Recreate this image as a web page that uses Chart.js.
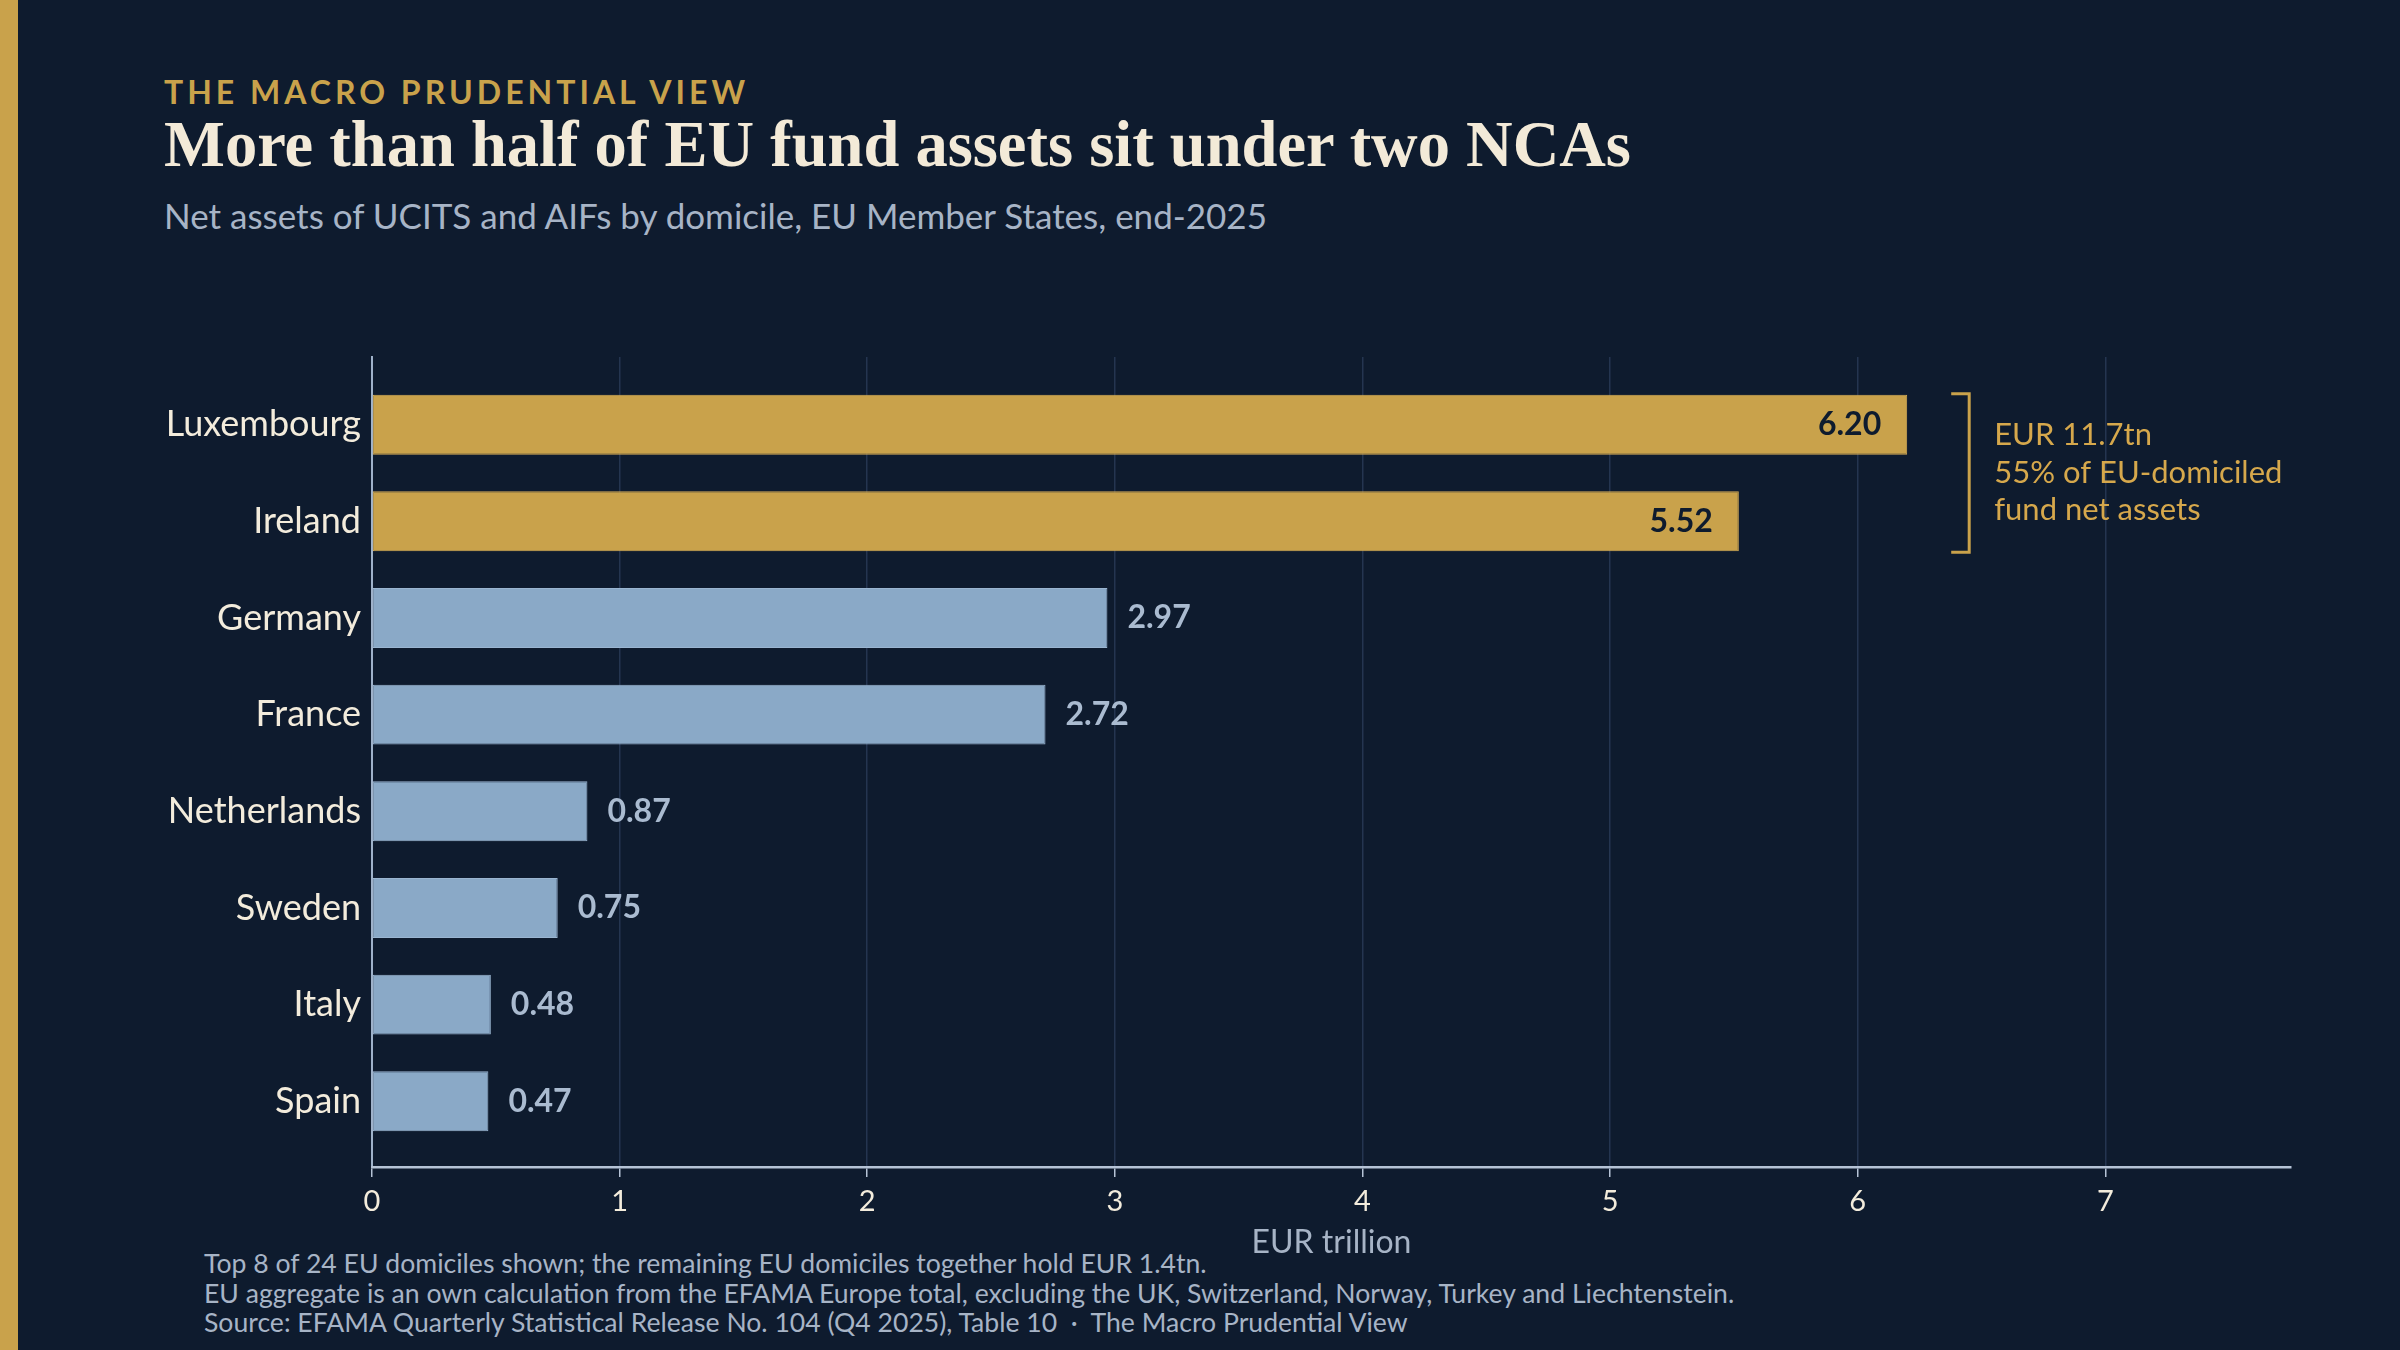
<!DOCTYPE html>
<html>
<head>
<meta charset="utf-8">
<script src="https://cdn.jsdelivr.net/npm/chart.js@4.4.1/dist/chart.umd.min.js"></script>
<style>
  html, body { margin: 0; padding: 0; }
  body { width: 2400px; height: 1350px; background: #0e1b2e; position: relative; overflow: hidden; font-family: Lato, "Noto Sans", sans-serif; }
  .stripe { position: absolute; left: 0; top: 0; width: 18px; height: 1350px; background: #c9a24b; }
  .txt { position: absolute; white-space: nowrap; line-height: 1.2; }
  #kicker { left: 164px; top: 73px; font-size: 32px; font-weight: 700; letter-spacing: 4px; color: #c9a24b; }
  #title { left: 164px; top: 106px; font-family: "Liberation Serif", serif; font-weight: 700; font-size: 64.5px; color: #f3ead8; }
  #subtitle { left: 164px; top: 194px; font-size: 35px; color: #a7b4c6; }
  #notes { left: 204px; top: 1249px; font-size: 26.6px; line-height: 29.5px; color: #a7b4c6; }
  canvas { position: absolute; left: 0; top: 0; }
</style>
</head>
<body>
<div class="stripe"></div>
<div class="txt" id="kicker">THE MACRO PRUDENTIAL VIEW</div>
<div class="txt" id="title">More than half of EU fund assets sit under two NCAs</div>
<div class="txt" id="subtitle">Net assets of UCITS and AIFs by domicile, EU Member States, end-2025</div>
<div class="txt" id="notes">Top 8 of 24 EU domiciles shown; the remaining EU domiciles together hold EUR 1.4tn.<br>EU aggregate is an own calculation from the EFAMA Europe total, excluding the UK, Switzerland, Norway, Turkey and Liechtenstein.<br>Source: EFAMA Quarterly Statistical Release No. 104 (Q4 2025), Table 10 &nbsp;·&nbsp; The Macro Prudential View</div>
<canvas id="chart" width="2400" height="1350"></canvas>
<script>
// data
const countries = ['Luxembourg', 'Ireland', 'Germany', 'France', 'Netherlands', 'Sweden', 'Italy', 'Spain'];
const netAssets = [6.20, 5.52, 2.97, 2.72, 0.87, 0.75, 0.48, 0.47];
const highlighted = [true, true, false, false, false, false, false, false];
const bracketLines = ['EUR 11.7tn', '55% of EU-domiciled', 'fund net assets'];
const xTicks = [0, 1, 2, 3, 4, 5, 6, 7];

const GOLD = '#c9a24b';
const BLUE = '#8aa9c7';
const NAVY = '#0e1b2e';

// value labels: inside the gold bars, outside the blue ones
const valueLabels = {
  id: 'valueLabels',
  afterDatasetsDraw(chart) {
    const ctx = chart.ctx;
    const meta = chart.getDatasetMeta(0);
    ctx.save();
    ctx.font = '700 32px Lato';
    ctx.textBaseline = 'middle';
    meta.data.forEach((bar, i) => {
      const txt = netAssets[i].toFixed(2);
      if (highlighted[i]) {
        ctx.fillStyle = NAVY;
        ctx.textAlign = 'right';
        ctx.fillText(txt, bar.x - 26, bar.y);
      } else {
        ctx.fillStyle = '#aabbd0';
        ctx.textAlign = 'left';
        ctx.fillText(txt, bar.x + 20, bar.y);
      }
    });
    ctx.restore();
  }
};

// bracket around the two gold bars with its note
const bracket = {
  id: 'bracket',
  afterDatasetsDraw(chart) {
    const ctx = chart.ctx;
    const meta = chart.getDatasetMeta(0);
    const first = meta.data[0], second = meta.data[1];
    const top = first.y - first.height / 2 - 1;
    const bottom = second.y + second.height / 2 + 1;
    const x = first.x + 62;
    ctx.save();
    ctx.strokeStyle = GOLD;
    ctx.lineWidth = 3;
    ctx.beginPath();
    ctx.moveTo(x - 18, top);
    ctx.lineTo(x, top);
    ctx.lineTo(x, bottom);
    ctx.lineTo(x - 18, bottom);
    ctx.stroke();
    ctx.fillStyle = '#d6a84c';
    ctx.font = '31px Lato';
    ctx.textAlign = 'left';
    ctx.textBaseline = 'middle';
    const mid = (top + bottom) / 2;
    bracketLines.forEach((line, i) => {
      ctx.fillText(line, x + 25, mid + (i - 1) * 37.5);
    });
    ctx.restore();
  }
};

new Chart(document.getElementById('chart'), {
  type: 'bar',
  data: {
    datasets: [{
      data: countries.map((c, i) => ({ x: netAssets[i], y: i })),
      backgroundColor: highlighted.map(h => h ? GOLD : BLUE),
      borderColor: highlighted.map(h => h ? '#d6ad55' : '#9ab5d1'),
      borderWidth: 1,
      borderSkipped: false,
      categoryPercentage: 1,
      barPercentage: 0.62
    }]
  },
  options: {
    indexAxis: 'y',
    responsive: false,
    devicePixelRatio: 1,
    animation: false,
    layout: { padding: { top: 357, right: 109, bottom: 88, left: 0 } },
    plugins: { legend: { display: false }, tooltip: { enabled: false } },
    scales: {
      y: {
        type: 'linear',
        reverse: true,
        offset: false,
        min: -0.7,
        max: 7.68,
        afterFit: s => { s.width = 372; },
        grid: { display: false, drawTicks: false, tickLength: 0 },
        border: { display: true, color: '#9fb2ca', width: 2 },
        ticks: {
          stepSize: 1,
          includeBounds: false,
          autoSkip: false,
          padding: 11,
          color: '#f3ecdc',
          font: { family: 'Lato', size: 36 },
          callback: v => countries[v]
        }
      },
      x: {
        type: 'linear',
        min: 0,
        max: 7.75,
        afterFit: s => { s.height = 95; },
        afterBuildTicks: s => { s.ticks = xTicks.map(v => ({ value: v })); },
        grid: { color: '#243550', lineWidth: 1.5, tickColor: '#b5c3d6', tickLength: 10 },
        border: { display: true, color: '#b5c3d6', width: 2.5 },
        ticks: {
          padding: 7,
          color: '#f3ecdc',
          font: { family: 'Lato', size: 29 }
        },
        title: {
          display: true,
          text: 'EUR trillion',
          color: '#a7b4c6',
          font: { family: 'Lato', size: 32 },
          padding: 0
        }
      }
    }
  },
  plugins: [valueLabels, bracket]
});
</script>
</body>
</html>
